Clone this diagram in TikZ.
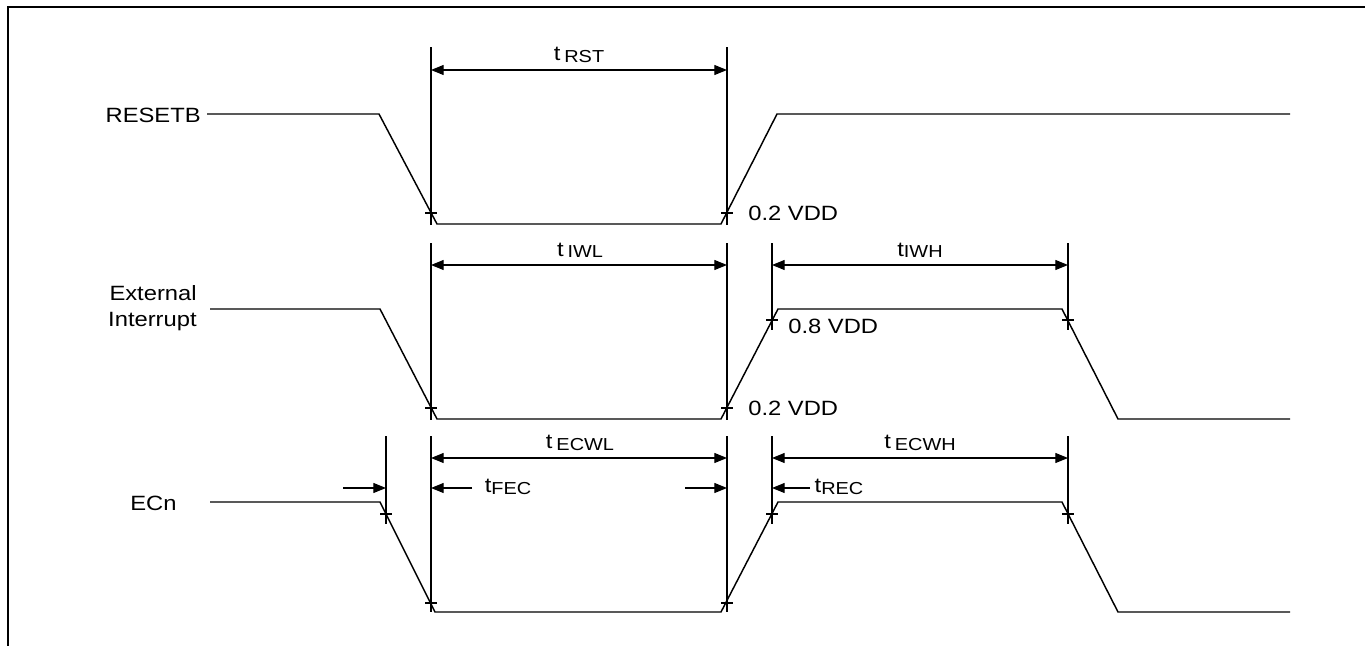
\documentclass[tikz,border=0pt]{standalone}
\usepackage{fontspec}
\setmainfont{Liberation Sans}
\usetikzlibrary{arrows.meta}
\newcommand{\tlab}[2]{t#1{\fontsize{13}{13}\selectfont\raisebox{-1pt}{#2}}}

\begin{document}
\begin{tikzpicture}[
                x=0.75pt, y=-0.75pt,
                signal/.style={line width=1.1pt},
                guide/.style={line width=0.8pt},
                dimline/.style={line width=0.8pt, {Triangle[length=9.5pt,width=7.5pt]}-{Triangle[length=9.5pt,width=7.5pt]}},
                halfarrow/.style={line width=0.8pt, -{Triangle[length=9.5pt,width=7.5pt]}},
                lbl/.style={font=\fontsize{15.5}{18}\selectfont, inner sep=0pt, xscale=1.15},
                tickmark/.style={line width=0.8pt}
            ]
            \useasboundingbox (0,0) rectangle (1365,646);

            % Frame
            \draw[line width=2.2pt] (1365,7) -- (8,7) -- (8,646);

            % Signal names
            \node[lbl, anchor=east] (rst) at (201,115) {RESETB};
            \node[lbl, anchor=east, align=right, font=\fontsize{15.5}{20}\selectfont] (ext) at (197,308) {External\\Interrupt};
            \node[lbl, anchor=west] (ecn) at (130,503) {ECn};

            % Waveforms
            \draw[signal] (rst.east) ++(6,-1) -- (379,114) -- (437,224) -- (721,224) -- (777,114) -- (1290,114);
            \draw[signal] (210,309) -- (380,309) -- (437,419) -- (721,419) -- (778,309) -- (1062,309) -- (1118,419) -- (1290,419);
            \draw[signal] (210,502) -- (380,502) -- (435,612) -- (721,612) -- (778,502) -- (1062,502) -- (1118,612) -- (1290,612);

            % Guide lines
            \foreach \x/\ya/\yb in {431/47/225, 727/47/225, 431/243/420, 727/243/420,
                                   772/243/330, 1068/243/330, 386/436/524, 431/436/612,
                                   727/436/612, 772/436/524, 1068/436/524}
                \draw[guide] (\x,\ya) -- (\x,\yb);

            % Threshold ticks
            \foreach \x/\y in {431/213, 727/213, 431/408, 727/408, 772/320, 1068/320,
                               386/514, 431/603, 727/603, 772/514, 1068/514}
                \draw[tickmark] (\x-6,\y) -- (\x+6,\y);

            % Threshold labels
            \node[lbl, anchor=west] (lo1) at (748,213) {0.2 VDD};
            \node[lbl, anchor=west] (hi2) at (788,326) {0.8 VDD};
            \node[lbl, anchor=west] (lo2) at (748,408) {0.2 VDD};

            % Dimensions
            \coordinate (a1) at (431,70);  \coordinate (b1) at (727,70);
            \coordinate (a2) at (431,265); \coordinate (b2) at (727,265);
            \coordinate (c2) at (772,265); \coordinate (d2) at (1068,265);
            \coordinate (a3) at (431,458); \coordinate (b3) at (727,458);
            \coordinate (c3) at (772,458); \coordinate (d3) at (1068,458);

            \draw[dimline] (a1) -- (b1);
            \draw[dimline] (a2) -- (b2);
            \draw[dimline] (c2) -- (d2);
            \draw[dimline] (a3) -- (b3);
            \draw[dimline] (c3) -- (d3);

            \node[lbl] (trst) at (579,55) {\tlab{\,}{RST}};
            \node[lbl] (tiwl) at (580,250) {\tlab{\,}{IWL}};
            \node[lbl] (tiwh) at (920,250) {\tlab{}{IWH}};
            \node[lbl] (tecwl) at (580,443) {\tlab{\,}{ECWL}};
            \node[lbl] (tecwh) at (920,443) {\tlab{\,}{ECWH}};

            % Edge times
            \coordinate (f0) at (343,488); \coordinate (f1) at (386,488);
            \coordinate (f2) at (472,488); \coordinate (f3) at (431,488);
            \coordinate (f4) at (685,488); \coordinate (f5) at (727,488);
            \coordinate (f6) at (810,488); \coordinate (f7) at (772,488);
            \draw[halfarrow] (f0) -- (f1);
            \draw[halfarrow] (f2) -- (f3);
            \draw[halfarrow] (f4) -- (f5);
            \draw[halfarrow] (f6) -- (f7);
            \node[lbl] (tfec) at (508,487) {\tlab{}{FEC}};
            \node[lbl] (trec) at (839,487) {\tlab{}{REC}};

        \end{tikzpicture}
\end{document}
